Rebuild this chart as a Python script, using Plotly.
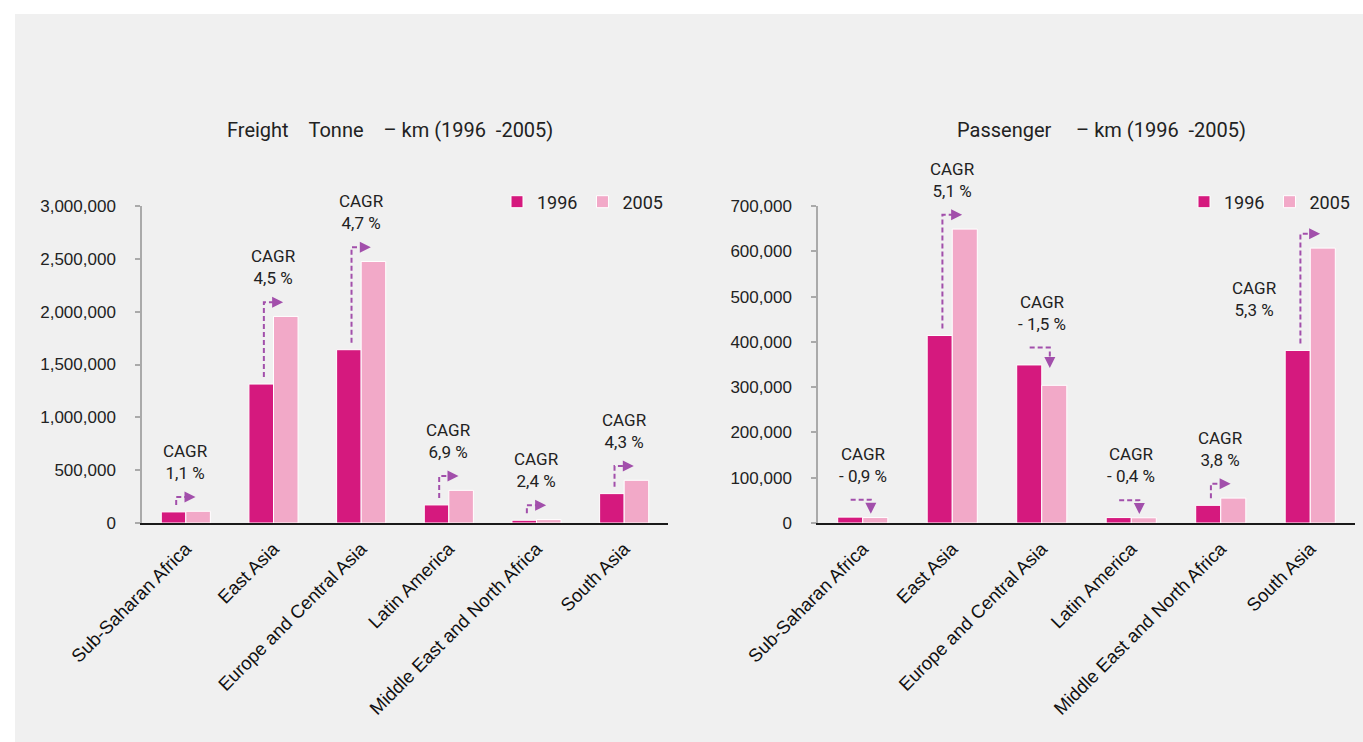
import plotly.graph_objects as go

# ---------------- data ----------------
REGIONS = ["Sub-Saharan Africa", "East Asia", "Europe and Central Asia",
           "Latin America", "Middle East and North Africa", "South Asia"]
YEARS = ["1996", "2005"]

FREIGHT_1996 = [105000, 1315000, 1640000, 171000, 26000, 278000]
FREIGHT_2005 = [111000, 1955000, 2475000, 309000, 32000, 404000]
FREIGHT_CAGR = ["1,1 %", "4,5 %", "4,7 %", "6,9 %", "2,4 %", "4,3 %"]

PASS_1996 = [13000, 414000, 349000, 12000, 39000, 381000]
PASS_2005 = [12000, 649000, 304000, 11500, 55000, 607000]
PASS_CAGR = ["- 0,9 %", "5,1 %", "- 1,5 %", "- 0,4 %", "3,8 %", "5,3 %"]

FREIGHT_TITLE = "Freight\u00a0\u00a0\u00a0\u00a0Tonne\u00a0\u00a0\u00a0\u00a0– km (1996\u00a0\u00a0-2005)"
PASS_TITLE = "Passenger\u00a0\u00a0\u00a0\u00a0\u00a0– km (1996\u00a0\u00a0-2005)"

# label placement for CAGR texts
FREIGHT_LABEL_SIDE = ["top"] * 6
PASS_LABEL_SIDE = ["top", "top", "top", "top", "top", "left"]

# ---------------- style ----------------
W, H = 1363, 742
C1996 = "#d5197e"
C2005 = "#f2a9c8"
ARROW = "#a24fab"
NARROW = "Liberation Sans Narrow, Roboto, Arial, sans-serif"
SANS = "Liberation Sans, Arial, sans-serif"
TXT = "#222222"

PLOT_TOP, PLOT_BOTTOM = 206, 523
LEFT_X = (142, 668)
RIGHT_X = (818, 1355)

fig = go.Figure()


def add_panel(v0, v1, cagr, sides, R, dtick, xa, ya, legend, xpx):
    xref = "x" if xa == "xaxis" else "x2"
    yref = "y" if ya == "yaxis" else "y2"
    idx = list(range(len(REGIONS)))
    fig.add_trace(go.Bar(x=idx, y=v0, name=YEARS[0], marker=dict(color=C1996, line=dict(color="white", width=1)),
                         xaxis=xref, yaxis=yref, legend=legend, offsetgroup="a"))
    fig.add_trace(go.Bar(x=idx, y=v1, name=YEARS[1], marker=dict(color=C2005, line=dict(color="white", width=1)),
                         xaxis=xref, yaxis=yref, legend=legend, offsetgroup="b"))

    px_per_cat = (xpx[1] - xpx[0]) / len(REGIONS)
    px_per_unit = (PLOT_BOTTOM - PLOT_TOP) / R
    head_x = 10 / px_per_cat
    head_y = 10 / px_per_unit

    xs, ys, hx, hy, hs = [], [], [], [], []
    for i, (a, b) in enumerate(zip(v0, v1)):
        if b >= a:
            xv = i - 0.11
            tip = i + 0.11
            y0 = a + 0.022 * R
            y1 = b + 0.045 * R
            xs += [xv, xv, tip - head_x, None]
            ys += [y0, y1, y1, None]
            hx.append(tip); hy.append(y1); hs.append("arrow-right")
            top = y1
        else:
            level = max(a, b) + 0.055 * R
            tipy = max(b + 0.012 * R, level - 0.065 * R)
            x0, x1 = i - 0.135, i + 0.09
            xs += [x0, x1, x1, None]
            ys += [level, level, tipy + head_y, None]
            hx.append(x1); hy.append(tipy); hs.append("arrow-down")
            top = level
        if sides[i] == "top":
            fig.add_annotation(x=i, y=top, xref=xref, yref=yref, text="CAGR<br>" + cagr[i],
                               showarrow=False, yanchor="bottom", yshift=12, align="center",
                               font=dict(family=NARROW, size=17, color=TXT))
        else:
            fig.add_annotation(x=i - 0.62, y=(a + b) / 2, xref=xref, yref=yref, text="CAGR<br>" + cagr[i],
                               showarrow=False, yanchor="middle", align="center",
                               font=dict(family=NARROW, size=17, color=TXT))

    fig.add_trace(go.Scatter(x=xs, y=ys, mode="lines", line=dict(color=ARROW, width=2, dash="5px,3px"),
                             xaxis=xref, yaxis=yref, showlegend=False, hoverinfo="skip"))
    fig.add_trace(go.Scatter(x=hx, y=hy, mode="markers",
                             marker=dict(symbol=hs, size=11, color=ARROW, line=dict(width=0)),
                             xaxis=xref, yaxis=yref, showlegend=False, hoverinfo="skip"))

    axis_common = dict(range=[-0.5, 5.5], tickmode="array", tickvals=idx, ticktext=REGIONS,
                       tickangle=-45, ticks="", showgrid=False, zeroline=False, showline=True,
                       linecolor="#1a1a1a", linewidth=1.5, automargin=False, ticklabelstandoff=6,
                       tickfont=dict(family=SANS, size=18.5, color="#111111"),
                       domain=[xpx[0] / W, xpx[1] / W], fixedrange=True)
    yaxis_common = dict(range=[0, R], dtick=dtick, tickformat=",d", showgrid=False, zeroline=False,
                        showline=True, linecolor="#aaaaaa", linewidth=1.5, ticks="outside", ticklen=5,
                        tickcolor="#aaaaaa", tickwidth=1.5, automargin=False, ticklabelstandoff=16,
                        tickfont=dict(family=SANS, size=17, color=TXT),
                        domain=[(H - PLOT_BOTTOM) / H, (H - PLOT_TOP) / H], fixedrange=True)
    fig.update_layout(**{xa: dict(axis_common, anchor=yref), ya: dict(yaxis_common, anchor=xref)})


add_panel(FREIGHT_1996, FREIGHT_2005, FREIGHT_CAGR, FREIGHT_LABEL_SIDE, 3000000, 500000,
          "xaxis", "yaxis", "legend", LEFT_X)
add_panel(PASS_1996, PASS_2005, PASS_CAGR, PASS_LABEL_SIDE, 700000, 100000,
          "xaxis2", "yaxis2", "legend2", RIGHT_X)

# titles
fig.add_annotation(x=390 / W, y=(H - 130) / H, xref="paper", yref="paper", text=FREIGHT_TITLE,
                   showarrow=False, xanchor="center", yanchor="middle",
                   font=dict(family=NARROW, size=20, color=TXT))
fig.add_annotation(x=1101 / W, y=(H - 130) / H, xref="paper", yref="paper", text=PASS_TITLE,
                   showarrow=False, xanchor="center", yanchor="middle",
                   font=dict(family=NARROW, size=20, color=TXT))

legend_common = dict(orientation="h", xanchor="right", yanchor="middle", y=(H - 202) / H,
                     bgcolor="rgba(0,0,0,0)", font=dict(family=NARROW, size=18, color=TXT),
                     itemwidth=30, traceorder="normal")

fig.update_layout(
    width=W, height=H, autosize=False,
    margin=dict(l=0, r=0, t=0, b=0, pad=0),
    paper_bgcolor="white", plot_bgcolor="rgba(0,0,0,0)",
    barmode="group", bargap=0.44, bargroupgap=0,
    legend=dict(legend_common, x=LEFT_X[1] / W),
    legend2=dict(legend_common, x=RIGHT_X[1] / W),
    shapes=[dict(type="rect", xref="paper", yref="paper", x0=15 / W, x1=1, y0=0, y1=(H - 14) / H,
                 fillcolor="#f0f0f0", line=dict(width=0), layer="below")],
    hovermode=False,
)

fig.write_html("out.html")
